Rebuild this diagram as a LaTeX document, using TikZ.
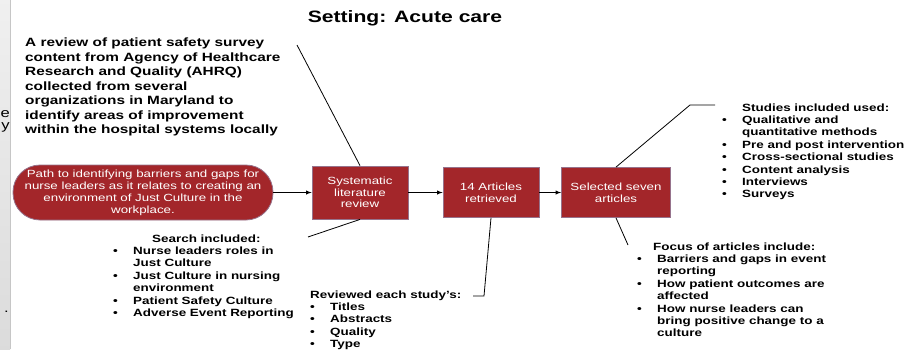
\documentclass[tikz,border=0pt]{standalone}
\usepackage{fontspec}
\setmainfont{Liberation Sans}[FakeStretch=1.28]
\usetikzlibrary{positioning}

\definecolor{boxred}{RGB}{163,38,42}
\definecolor{boxrim}{RGB}{150,115,140}
\newcommand{\bitem}{\makebox[20pt][l]{\textbullet}}
\newcommand{\bcont}{\hspace*{20pt}}

\begin{document}
\begin{tikzpicture}[x=1pt, y=-1pt, >=latex, node distance = 131pt, on grid,
stepbox/.style ={rectangle, fill=boxred, draw=boxrim, line width=0.8pt, text=white, align=center,
  inner sep=0pt, minimum width=96pt, minimum height=50pt, font=\fontsize{10.4}{11.6}\selectfont},
pathnode/.style ={rectangle, rounded corners=27pt, fill=boxred, draw=boxrim, line width=0.8pt, text=white,
  align=center, inner sep=0pt, minimum width=260pt, minimum height=55pt, font=\fontsize{10.4}{12}\selectfont},
notes/.style ={align=left, inner sep=0pt, anchor=base west, font=\fontsize{10.5}{12.4}\selectfont\bfseries},
flow/.style ={->, line width=0.9pt},
lead/.style ={line width=0.8pt}]
\useasboundingbox (0,0) rectangle (906,349);

% grey strip on the left edge
\shade[top color=gray!12, bottom color=gray!28] (0,0) rectangle (10,349);
\draw[gray!45, line width=0.6pt] (10,0) -- (10,349);
\begin{scope}
\clip (0,0) rectangle (10,349);
\node[anchor=east, inner sep=0pt, font=\fontsize{13}{14}\selectfont] (frag1) at (10,114) {e};
\node[anchor=east, inner sep=0pt, font=\fontsize{13}{14}\selectfont] (frag2) at (10,127) {y};
\node[anchor=east, inner sep=0pt, font=\fontsize{13}{14}\selectfont] (frag3) at (9,312) {.};
\end{scope}

\node[font=\fontsize{16.5}{18}\selectfont\bfseries] (title) at (405,18) {Setting: Acute care};

% multi-line notes sit on the baseline of their last line
\node[align=left, inner sep=0pt, anchor=base west, font=\fontsize{12}{14.5}\selectfont\bfseries] (review) at (25,133.5)
  {A review of patient safety survey\\ content from Agency of Healthcare\\ Research and Quality (AHRQ)\\
   collected from several\\ organizations in Maryland to\\ identify areas of improvement\\ within the hospital systems locally};

% main flow
\node[pathnode] (path) at (143,192.5) {Path to identifying barriers and gaps for\\ nurse leaders as it relates to creating an\\
  environment of Just Culture in the\\ workplace.};
\node[stepbox, minimum height=53pt] (sys) [right = 217pt of path] {Systematic\\ literature\\ review};
\node[stepbox] (art) [right = of sys] {14 Articles\\ retrieved};
\node[stepbox, minimum width=109pt] (sel) [right = 125pt of art] {Selected seven\\ articles};

\draw[flow] (path) -- (sys);
\draw[flow] (sys) -- (art);
\draw[flow] (art) -- (sel);

% notes round the flow
\node[notes] (search) at (113,316.4) {\hspace*{39pt}Search included:\\
  \bitem Nurse leaders roles in\\ \bcont Just Culture\\
  \bitem Just Culture in nursing\\ \bcont environment\\
  \bitem Patient Safety Culture\\
  \bitem Adverse Event Reporting};
\node[notes] (studied) at (310,347.6) {Reviewed each study's:\\
  \bitem Titles\\ \bitem Abstracts\\ \bitem Quality\\ \bitem Type};
\node[notes] (focus) at (637,336.8) {\hspace*{16pt}Focus of articles include:\\
  \bitem Barriers and gaps in event\\ \bcont reporting\\
  \bitem How patient outcomes are\\ \bcont affected\\
  \bitem How nurse leaders can\\ \bcont bring positive change to a\\ \bcont culture};
\node[notes] (used) at (722,197.8) {\hspace*{20pt}Studies included used:\\
  \bitem Qualitative and\\ \bcont quantitative methods\\
  \bitem Pre and post intervention\\
  \bitem Cross-sectional studies\\
  \bitem Content analysis\\
  \bitem Interviews\\
  \bitem Surveys};

\coordinate (c1) at (297,45);
\coordinate (c2) at (308,237);
\coordinate (c3) at (484,296);
\coordinate (c4) at (473,296);
\coordinate (c5) at (628,245);
\coordinate (c6) at (690,105);
\coordinate (c7) at (715,105);

\draw[lead] (c1) -- (sys.north);
\draw[lead] (sys.south) -- (c2);
\draw[lead] (art.south) -- (c3) -- (c4);
\draw[lead] (sel.south) -- (c5);
\draw[lead] (sel.north) -- (c6) -- (c7);
\end{tikzpicture}
\end{document}
